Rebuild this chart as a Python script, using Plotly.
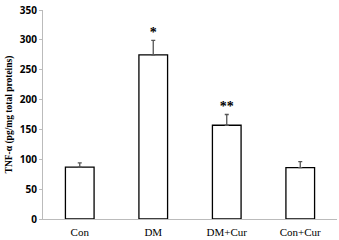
import plotly.graph_objects as go

categories = ["Con", "DM", "DM+Cur", "Con+Cur"]
values = [87, 275, 157, 86]
errors = [7, 24, 18, 10]
marks = ["", "*", "**", ""]

fig = go.Figure()
fig.add_trace(go.Bar(
    x=categories, y=values,
    marker=dict(color="white", line=dict(color="black", width=1.3)),
    error_y=dict(type="data", array=errors, symmetric=False, arrayminus=[0]*4,
                 color="#555555", thickness=1.3, width=2),
    width=0.39,
))
fig.add_trace(go.Scatter(
    x=categories, y=[v + e for v, e in zip(values, errors)],
    mode="text", text=marks, textposition="top center",
    textfont=dict(family="Liberation Serif", size=14, color="black", weight="bold"),
    cliponaxis=False, hoverinfo="skip",
))

fig.update_layout(
    width=339, height=240,
    margin=dict(l=43, r=2, t=8, b=20),
    plot_bgcolor="white", paper_bgcolor="white",
    showlegend=False,
    yaxis=dict(
        range=[0, 350], dtick=50,
        showgrid=False, zeroline=False,
        showline=True, linecolor="#bbbbbb", linewidth=1,
        ticks="outside", ticklen=3, tickcolor="#bbbbbb",
        tickfont=dict(family="Open Sans", size=10, color="black", weight="bold"),
        title=dict(text="TNF-α (pg/mg total proteins)",
                   font=dict(family="Liberation Serif", size=9.5, color="black", weight="bold"),
                   standoff=5),
    ),
    xaxis=dict(
        showgrid=False, showline=True, linecolor="#bbbbbb", linewidth=1,
        ticks="", ticklabelstandoff=3,
        tickfont=dict(family="Liberation Serif", size=11, color="black"),
    ),
)

fig.write_html("out.html", config={"displayModeBar": False},
               post_script="document.body.style.margin='0';document.body.style.overflow='hidden';")
